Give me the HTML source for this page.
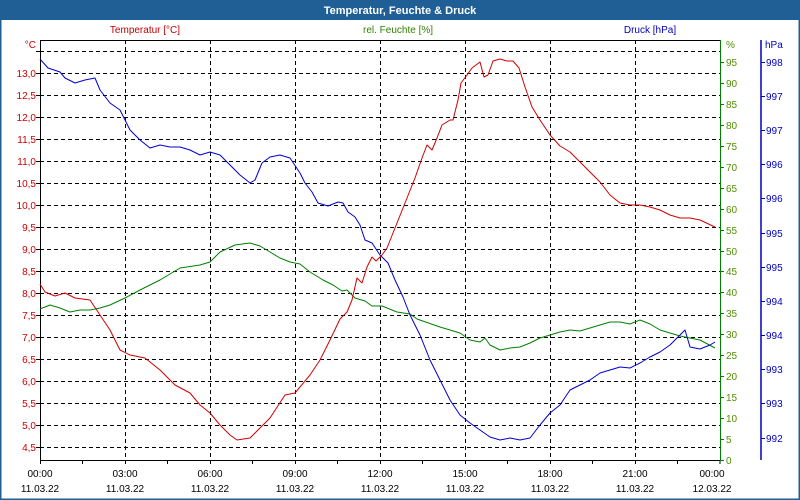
<!DOCTYPE html>
<html><head><meta charset="utf-8"><style>
body{margin:0;background:#fff;}
svg{display:block;font-family:"Liberation Sans","DejaVu Sans",sans-serif;}
</style></head><body>
<svg width="800" height="500" viewBox="0 0 800 500" xmlns="http://www.w3.org/2000/svg">
<rect x="0" y="0" width="800" height="500" fill="#fff"/>
<rect x="0.5" y="0.5" width="799" height="499" fill="none" stroke="#1f5f96" stroke-width="2"/>
<rect x="0" y="0" width="800" height="20" fill="#1f5f96"/>
<text x="400" y="14" text-anchor="middle" font-size="11" font-weight="bold" fill="#fff">Temperatur, Feuchte &amp; Druck</text>
<text x="145" y="33" text-anchor="middle" font-size="10" fill="#c00000">Temperatur [°C]</text>
<text x="398" y="33" text-anchor="middle" font-size="10" fill="#308000">rel. Feuchte [%]</text>
<text x="650" y="33" text-anchor="middle" font-size="10" fill="#0000c0">Druck [hPa]</text>
<g stroke="#000" stroke-width="1" stroke-dasharray="4,3" fill="none">
<path d="M40 51.5H720M40 73.5H720M40 95.5H720M40 117.5H720M40 139.5H720M40 161.5H720M40 183.5H720M40 205.5H720M40 227.5H720M40 249.5H720M40 271.5H720M40 293.5H720M40 315.5H720M40 337.5H720M40 359.5H720M40 381.5H720M40 403.5H720M40 425.5H720M40 447.5H720"/>
<path d="M125.5 40V460M210.5 40V460M295.5 40V460M380.5 40V460M465.5 40V460M550.5 40V460M635.5 40V460"/>
</g>
<path d="M40.5 40V460.5H720M40 40.5H720" stroke="#000" fill="none"/>
<path d="M82.5 460v4M125.5 460v4M167.5 460v4M210.5 460v4M252.5 460v4M295.5 460v4M337.5 460v4M380.5 460v4M422.5 460v4M465.5 460v4M507.5 460v4M550.5 460v4M592.5 460v4M635.5 460v4M677.5 460v4M40.5 460v4M720 460v4" stroke="#000"/>
<path d="M36 51.5h4M36 73.5h4M36 95.5h4M36 117.5h4M36 139.5h4M36 161.5h4M36 183.5h4M36 205.5h4M36 227.5h4M36 249.5h4M36 271.5h4M36 293.5h4M36 315.5h4M36 337.5h4M36 359.5h4M36 381.5h4M36 403.5h4M36 425.5h4M36 447.5h4" stroke="#000"/>
<g font-size="10" fill="#d00000" text-anchor="end">
<text x="36" y="48">°C</text>
<text x="36" y="77">13,0</text><text x="36" y="99">12,5</text><text x="36" y="121">12,0</text><text x="36" y="143">11,5</text><text x="36" y="165">11,0</text><text x="36" y="187">10,5</text><text x="36" y="209">10,0</text><text x="36" y="231">9,5</text><text x="36" y="253">9,0</text><text x="36" y="275">8,5</text><text x="36" y="297">8,0</text><text x="36" y="319">7,5</text><text x="36" y="341">7,0</text><text x="36" y="363">6,5</text><text x="36" y="385">6,0</text><text x="36" y="407">5,5</text><text x="36" y="429">5,0</text><text x="36" y="451">4,5</text>
</g>
<line x1="720.5" y1="40" x2="720.5" y2="461" stroke="#008000"/>
<g stroke="#008000">
<path d="M720 62.5h4M720 83.5h4M720 104.5h4M720 125.5h4M720 146.5h4M720 167.5h4M720 188.5h4M720 209.5h4M720 230.5h4M720 251.5h4M720 271.5h4M720 292.5h4M720 313.5h4M720 334.5h4M720 355.5h4M720 376.5h4M720 397.5h4M720 418.5h4M720 439.5h4M720 460.5h4"/>
</g>
<g font-size="10" fill="#509000">
<text x="726" y="48">%</text>
<text x="726" y="66">95</text><text x="726" y="87">90</text><text x="726" y="108">85</text><text x="726" y="129">80</text><text x="726" y="150">75</text><text x="726" y="171">70</text><text x="726" y="192">65</text><text x="726" y="213">60</text><text x="726" y="234">55</text><text x="726" y="255">50</text><text x="726" y="275">45</text><text x="726" y="296">40</text><text x="726" y="317">35</text><text x="726" y="338">30</text><text x="726" y="359">25</text><text x="726" y="380">20</text><text x="726" y="401">15</text><text x="726" y="422">10</text><text x="726" y="443">5</text><text x="726" y="464">0</text>
</g>
<line x1="761" y1="40" x2="761" y2="460" stroke="#0000c0" stroke-width="1.5"/>
<g stroke="#0000c0"><path d="M761 62.5h4M761 96.5h4M761 130.5h4M761 164.5h4M761 198.5h4M761 233.5h4M761 267.5h4M761 301.5h4M761 335.5h4M761 369.5h4M761 403.5h4M761 438.5h4"/></g>
<g font-size="10" fill="#0000c0">
<text x="765" y="48">hPa</text>
<text x="766" y="66">998</text><text x="766" y="100">997</text><text x="766" y="134">997</text><text x="766" y="168">996</text><text x="766" y="202">996</text><text x="766" y="237">995</text><text x="766" y="271">995</text><text x="766" y="305">994</text><text x="766" y="339">994</text><text x="766" y="373">993</text><text x="766" y="407">993</text><text x="766" y="442">992</text>
</g>
<g font-size="10" fill="#000" text-anchor="middle">
<text x="40" y="477">00:00</text><text x="40" y="492">11.03.22</text>
<text x="125" y="477">03:00</text><text x="125" y="492">11.03.22</text>
<text x="210" y="477">06:00</text><text x="210" y="492">11.03.22</text>
<text x="295" y="477">09:00</text><text x="295" y="492">11.03.22</text>
<text x="380" y="477">12:00</text><text x="380" y="492">11.03.22</text>
<text x="465" y="477">15:00</text><text x="465" y="492">11.03.22</text>
<text x="550" y="477">18:00</text><text x="550" y="492">11.03.22</text>
<text x="635" y="477">21:00</text><text x="635" y="492">11.03.22</text>
<text x="712" y="477">00:00</text><text x="712" y="492">12.03.22</text>
</g>
<g fill="none" stroke-width="1" stroke-linejoin="round">
<polyline stroke="#008000" points="40,309 50,305 60,308 70,312 80,310 90,310 100,308 110,305 125,298 140,290 160,280 180,268 200,265 210,262 220,252 235,245 250,243 260,246 270,252 280,258 290,262 300,264 310,272 323,280 333,285 342,291 347,290 355,298 365,301 372,306 382,306 397,312 410,314 417,319 440,327 460,333 470,340 480,342 485,338 490,345 500,350 510,348 520,347 530,343 540,338 550,335 560,332 570,330 580,331 590,328 600,325 610,322 620,322 630,324 640,320 650,324 660,330 680,336 700,340 715,348"/>
<polyline stroke="#0000d0" points="40,59 48,68 60,72 65,78 75,83 85,80 95,78 100,90 110,103 120,110 130,130 140,140 150,148 160,145 170,147 180,147 190,150 200,155 210,152 220,155 230,165 240,175 250,183 255,180 262,163 270,157 280,155 290,158 300,173 305,183 312,192 318,203 328,206 338,202 343,203 348,212 355,217 360,225 365,240 372,243 380,255 388,263 395,280 403,297 410,315 420,335 430,360 440,380 450,400 460,415 470,423 480,430 490,437 500,440 510,438 520,440 530,438 540,425 550,413 560,405 570,390 580,385 590,380 600,373 610,370 620,367 630,368 640,363 650,357 660,352 670,345 680,335 685,330 690,347 700,349 710,345 715,342"/>
<polyline stroke="#d00000" points="40,284 45,292 55,296 65,293 75,298 90,300 100,315 110,330 120,350 130,355 145,358 160,370 175,385 190,393 200,405 210,413 220,425 230,435 237,440 250,438 260,428 270,418 285,395 295,393 310,375 320,360 330,340 340,319 347,312 352,300 357,278 362,283 367,267 372,257 376,261 382,255 387,248 397,223 407,198 415,178 422,158 427,145 432,150 437,138 442,125 450,120 453,120 458,100 461,83 467,75 472,68 480,62 484,77 488,75 493,61 500,59 507,61 513,61 519,68 525,87 532,107 540,120 550,135 560,146 570,152 580,162 590,172 600,182 610,195 620,203 630,205 640,205 650,207 660,210 670,215 680,218 690,218 700,220 715,227"/>
</g>
</svg>
</body></html>
